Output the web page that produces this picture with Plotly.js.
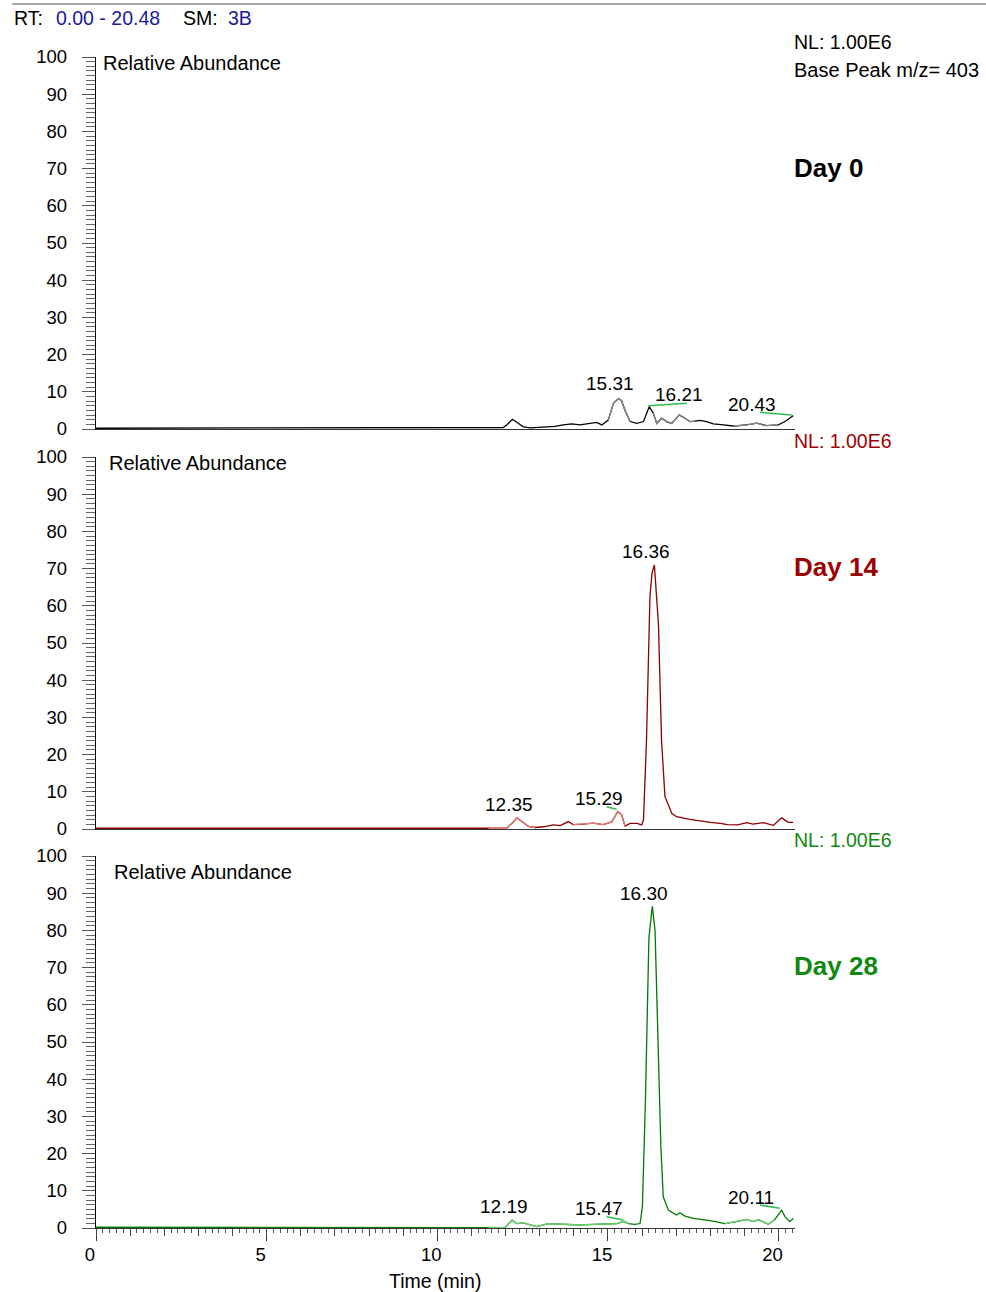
<!DOCTYPE html>
<html>
<head>
<meta charset="utf-8">
<script src="https://cdn.plot.ly/plotly-3.0.1.min.js"></script>
<style>html,body{margin:0;padding:0;background:#fff}</style>
</head>
<body>
<div id="chart" style="width:986px;height:1292px"></div>
<script>
// ---------------- DATA ----------------
const dayLabels = ['Day 0', 'Day 14', 'Day 28'];
const nlLabel = 'NL: 1.00E6';
const basePeakLabel = 'Base Peak m/z= 403';
const yAxisLabel = 'Relative Abundance';
const xAxisLabel = 'Time (min)';
const xTickVals = [0, 5, 10, 15, 20];
const xTickText = ['0', '5', '10', '15', '20'];
const timeRange = [0, 20.48];

// Day 0
const time0 = [0,1,2,3,4,5,6,7,8,9,10,11,11.6,11.93,12.05,12.20,12.33,12.52,12.72,12.95,13.21,13.45,13.69,13.94,14.18,14.47,14.67,14.82,15.01,15.16,15.31,15.40,15.50,15.65,15.84,16.04,16.14,16.21,16.33,16.43,16.57,16.72,16.87,17.09,17.26,17.40,17.55,17.70,17.89,18.09,18.38,18.67,18.85,19.07,19.20,19.36,19.50,19.65,19.99,20.19,20.38,20.43];
const abund0 = [0.2,0.2,0.3,0.2,0.3,0.2,0.3,0.2,0.2,0.3,0.2,0.2,0.3,0.4,1.2,2.6,1.8,0.6,0.3,0.4,0.5,0.7,1.1,1.4,1.1,1.6,1.8,1.1,2.4,6.9,8.2,7.6,5.0,2.0,1.5,2.0,4.2,6.0,4.2,1.5,2.9,2.0,1.5,3.8,2.9,2.0,2.1,2.3,2.0,1.4,1.1,0.8,0.9,1.1,1.3,1.6,1.2,0.9,1.1,2.0,3.3,3.6];
const peakRT0 = [15.31, 16.21, 20.43];
const peakAb0 = [8.2, 6.0, 3.6];
const peakText0 = ['15.31', '16.21', '20.43'];
const lightRanges0 = [[15.01, 15.65], [16.33, 17.55], [18.67, 19.99]];

// Day 14
const time14 = [0,1,2,3,4,5,6,7,8,9,10,11,11.5,12.03,12.20,12.33,12.47,12.67,12.86,13.11,13.40,13.60,13.84,13.98,14.28,14.57,14.86,15.11,15.29,15.40,15.50,15.65,15.85,15.99,16.04,16.13,16.23,16.29,16.36,16.43,16.48,16.57,16.67,16.77,16.87,17.01,17.20,17.40,17.60,17.80,18.00,18.30,18.50,18.80,19.07,19.25,19.55,19.85,20.09,20.28,20.43];
const abund14 = [0.2,0.2,0.2,0.3,0.2,0.2,0.3,0.2,0.2,0.2,0.2,0.2,0.2,0.2,1.6,3.0,2.1,0.7,0.4,0.6,1.1,0.9,2.0,1.2,1.3,1.6,1.2,1.9,4.7,3.8,0.8,1.5,1.5,1.1,2.4,23.9,62.4,68.7,71.0,61.6,55.0,23.9,8.7,6.5,4.2,3.3,2.9,2.6,2.3,2.0,1.8,1.5,1.2,1.1,1.7,1.3,1.7,1.0,3.0,1.8,1.8];
const peakRT14 = [12.35, 15.29, 16.36];
const peakAb14 = [3.0, 4.7, 71.0];
const peakText14 = ['12.35', '15.29', '16.36'];
const lightRanges14 = [[11.5, 12.86], [13.98, 15.50]];

// Day 28
const time28 = [0,1,2,3,4,5,6,7,8,9,10,11,11.5,11.98,12.19,12.33,12.52,12.72,12.91,13.25,13.60,13.89,14.18,14.57,14.96,15.26,15.47,15.60,15.79,15.94,16.01,16.10,16.20,16.30,16.38,16.46,16.55,16.62,16.77,17.01,17.11,17.26,17.50,17.99,18.43,18.77,19.06,19.26,19.41,19.70,19.89,20.09,20.19,20.33,20.43];
const abund28 = [0.2,0.2,0.2,0.2,0.3,0.2,0.2,0.2,0.3,0.2,0.2,0.2,0.2,0.1,2.1,1.2,1.4,0.8,0.4,1.2,1.0,1.0,0.8,1.0,1.0,1.2,1.8,1.2,1.0,1.2,5.7,35.0,78.0,86.5,80.0,55.0,22.0,8.4,4.8,3.5,4.1,3.2,2.6,2.0,1.2,1.7,2.3,1.7,2.2,1.0,2.3,4.8,3.0,1.7,2.6];
const peakRT28 = [12.19, 15.47, 16.30, 20.11];
const peakAb28 = [2.1, 1.8, 86.5, 4.8];
const peakText28 = ['12.19', '15.47', '16.30', '20.11'];
const lightRanges28 = [[11.5, 15.60], [18.43, 19.89]];

// ---------------- STYLE / LAYOUT CONFIG ----------------
const FONT = 'Liberation Sans, Arial, Helvetica, sans-serif';
const W = 986, H = 1292;
const px = x => x / W;
const py = y => 1 - y / H;

const panels = [
  {t: time0, v: abund0, rt: peakRT0, ab: peakAb0, txt: peakText0, light: lightRanges0,
   dark: '#000000', lite: '#8a8a8a', txtColor: '#000000', nlColor: null,
   yTop: 57, yBot: 429, relX: 101, relY: 63, dayY: 168, nlY: null,
   labelOff: [[-8.5, 14.5], [29.7, 11.7], [-41, 11.6]],
   leaders: [{i: 1, d: [-1, 1, 37.4, 3.4]}, {i: 2, d: [-33.3, 3.3, -1.6, 0.6]}]},
  {t: time14, v: abund14, rt: peakRT14, ab: peakAb14, txt: peakText14, light: lightRanges14,
   dark: '#8b0000', lite: '#e07b7b', txtColor: '#9c0000', nlColor: '#a00000',
   yTop: 457, yBot: 829, relX: 107, relY: 463, dayY: 567, nlY: 441,
   labelOff: [[-8.5, 13.8], [-19, 13.5], [-8.4, 13]],
   leaders: [{i: 1, d: [-11.2, 4.8, -1.2, 2.2]}]},
  {t: time28, v: abund28, rt: peakRT28, ab: peakAb28, txt: peakText28, light: lightRanges28,
   dark: '#007a00', lite: '#6fcf6f', txtColor: '#118811', nlColor: '#118811',
   yTop: 856, yBot: 1228, relX: 112, relY: 872, dayY: 966, nlY: 840,
   labelOff: [[-8, 14], [-25, 13.3], [-8.3, 13], [-31.4, 13]],
   leaders: [{i: 1, d: [-17.3, 4.6, -0.7, 1.3]}, {i: 3, d: [-22.4, 5.1, -2.4, 1.8]}]}
];

const traces = [];
const annotations = [];
const shapes = [];
const layout = {
  width: W, height: H,
  margin: {l: 0, r: 0, t: 0, b: 0, pad: 0},
  paper_bgcolor: '#ffffff', plot_bgcolor: 'rgba(0,0,0,0)',
  showlegend: false,
  font: {family: FONT, size: 19, color: '#000'},
  hovermode: false
};

const xDomain = [px(96), px(96 + 34.13 * 20.48)];
const LX = 792; // left edge of right-side texts

panels.forEach((p, k) => {
  const n = k === 0 ? '' : String(k + 1);
  const xa = 'x' + n, ya = 'y' + n;
  traces.push({x: p.t, y: p.v, xaxis: xa, yaxis: ya, type: 'scatter', mode: 'lines',
    line: {color: p.dark, width: 1.3}, hoverinfo: 'skip'});
  p.light.forEach(r => {
    const xs = [], ys = [];
    p.t.forEach((tv, i) => { if (tv >= r[0] && tv <= r[1]) { xs.push(tv); ys.push(p.v[i]); } });
    traces.push({x: xs, y: ys, xaxis: xa, yaxis: ya, type: 'scatter', mode: 'lines',
      line: {color: p.lite, width: 1.3}, hoverinfo: 'skip'});
  });
  const isBottom = k === 2;
  layout['xaxis' + n] = {
    domain: xDomain, range: timeRange, anchor: ya, fixedrange: true,
    showgrid: false, zeroline: false, showline: true, linecolor: '#333', linewidth: 1.2,
    ticks: isBottom ? 'outside' : '', showticklabels: isBottom,
    tickvals: isBottom ? xTickVals : [], ticktext: isBottom ? xTickText : [],
    ticklen: 12, tickwidth: 1, tickcolor: '#333',
    tickfont: {family: FONT, size: 18.5, color: '#000'},
    ticklabelshift: -6, ticklabelstandoff: -2,
    minor: isBottom ? {dtick: 0.2, tick0: 0, ticks: 'outside', ticklen: 4, tickwidth: 1, tickcolor: '#555', showgrid: false} : undefined
  };
  layout['yaxis' + n] = {
    domain: [py(p.yBot), py(p.yTop)], range: [0, 100], anchor: xa, fixedrange: true,
    showgrid: false, zeroline: false, showline: true, linecolor: '#000', linewidth: 1.2,
    ticks: 'outside', dtick: 10, tick0: 0, ticklen: 13, tickwidth: 1, tickcolor: '#555',
    tickfont: {family: FONT, size: 18.5, color: '#000'}, ticklabelstandoff: 11,
    minor: {dtick: 1.25, tick0: 0, ticks: 'outside', ticklen: 9, tickwidth: 1, tickcolor: '#666', showgrid: false}
  };
  p.rt.forEach((rt, i) => {
    annotations.push({xref: xa, yref: ya, x: rt, y: p.ab[i], text: p.txt[i], showarrow: false,
      xanchor: 'center', yanchor: 'middle', xshift: p.labelOff[i][0], yshift: p.labelOff[i][1],
      font: {family: FONT, size: 19, color: '#000'}});
  });
  p.leaders.forEach(L => {
    shapes.push({type: 'line', xref: xa, yref: ya, xsizemode: 'pixel', ysizemode: 'pixel',
      xanchor: p.rt[L.i], yanchor: p.ab[L.i], x0: L.d[0], y0: L.d[1], x1: L.d[2], y1: L.d[3],
      line: {color: '#2ebd4a', width: 1.5}});
  });
  annotations.push({xref: 'paper', yref: 'paper', x: px(p.relX), y: py(p.relY), text: yAxisLabel,
    showarrow: false, xanchor: 'left', yanchor: 'middle', font: {family: FONT, size: 20, color: '#000'}});
  annotations.push({xref: 'paper', yref: 'paper', x: px(LX), y: py(p.dayY), text: '<b>' + dayLabels[k] + '</b>',
    showarrow: false, xanchor: 'left', yanchor: 'middle', font: {family: FONT, size: 26, color: p.txtColor}});
  if (p.nlY !== null) {
    annotations.push({xref: 'paper', yref: 'paper', x: px(LX), y: py(p.nlY), text: nlLabel,
      showarrow: false, xanchor: 'left', yanchor: 'middle', font: {family: FONT, size: 19.5, color: p.nlColor}});
  }
});

layout.xaxis4 = {domain: xDomain, range: timeRange, anchor: 'y3', overlaying: 'x3', side: 'bottom',
  fixedrange: true, showgrid: false, zeroline: false, showline: false, showticklabels: false,
  ticks: 'outside', dtick: 1, tick0: 0, ticklen: 7, tickwidth: 1, tickcolor: '#444'};
traces.push({x: [], y: [], xaxis: 'x4', yaxis: 'y3', type: 'scatter', mode: 'lines', hoverinfo: 'skip', showlegend: false});

const navy = '#1a1aa0';
[['RT:', 12, '#000'], ['0.00 - 20.48', 54, navy], ['SM:', 181, '#000'], ['3B', 226, navy]].forEach(h => {
  annotations.push({xref: 'paper', yref: 'paper', x: px(h[1]), y: py(18), text: h[0], showarrow: false,
    xanchor: 'left', yanchor: 'middle', font: {family: FONT, size: 19.5, color: h[2]}});
});
annotations.push({xref: 'paper', yref: 'paper', x: px(LX), y: py(42), text: nlLabel, showarrow: false,
  xanchor: 'left', yanchor: 'middle', font: {family: FONT, size: 19.5, color: '#000'}});
annotations.push({xref: 'paper', yref: 'paper', x: px(LX), y: py(70), text: basePeakLabel, showarrow: false,
  xanchor: 'left', yanchor: 'middle', font: {family: FONT, size: 20, color: '#000'}});
annotations.push({xref: 'paper', yref: 'paper', x: px(435), y: py(1281), text: xAxisLabel, showarrow: false,
  xanchor: 'center', yanchor: 'middle', font: {family: FONT, size: 19.5, color: '#000'}});
shapes.push({type: 'line', xref: 'paper', yref: 'paper', x0: px(12), x1: 1, y0: py(4), y1: py(4),
  line: {color: '#555', width: 1}});

layout.annotations = annotations;
layout.shapes = shapes;

Plotly.newPlot('chart', traces, layout, {displayModeBar: false, staticPlot: true});
</script>
</body>
</html>
